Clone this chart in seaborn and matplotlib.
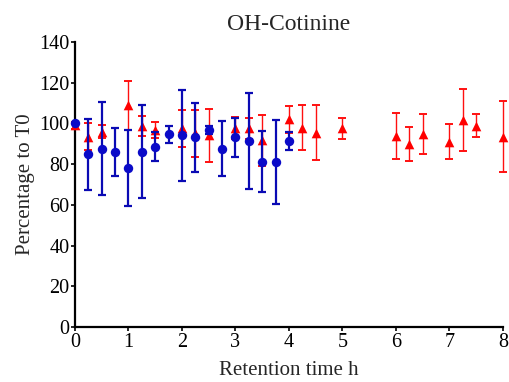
import matplotlib
matplotlib.use("Agg")
import matplotlib.pyplot as plt
import seaborn as sns
import numpy as np

# Red triangles series
red_t = [0, 0.25, 0.5, 1, 1.25, 1.5, 2, 2.25, 2.5, 3, 3.25, 3.5, 4, 4.25, 4.5, 5,
         6, 6.25, 6.5, 7, 7.25, 7.5, 8]
red_v = [99, 93.5, 96, 109, 98.7, 96.8, 97.6, 95.1, 94.3, 97.8, 97.6, 91.8, 102, 98, 95.4, 97.6,
         93.8, 89.9, 94.8, 91, 101.7, 98.9, 93.5]
red_e = [1.5, 6.5, 3, 12, 5, 4, 9, 11.5, 13, 5.5, 5, 12.5, 6.5, 11, 13.6, 5,
         11.3, 8.5, 10, 8.5, 15, 5.7, 17.6]

# Blue circles series
blue_t = [0, 0.25, 0.5, 0.75, 1, 1.25, 1.5, 1.75, 2, 2.25, 2.5, 2.75, 3, 3.25, 3.5, 3.75, 4]
blue_v = [100, 84.8, 87.6, 86, 78.3, 86.1, 88.6, 94.6, 94.1, 93.2, 96.9, 87.6, 93.2, 91.4, 81.2, 81.2, 91.4]
blue_e = [0, 17.3, 23, 12, 18.7, 22.8, 7.2, 4, 22.5, 17, 2, 13.6, 9.6, 23.4, 15, 20.7, 4.3]

x_ticks = [0, 1, 2, 3, 4, 5, 6, 7, 8]
y_ticks = [0, 20, 40, 60, 80, 100, 120, 140]

sns.set_style("ticks")
plt.rcParams['font.family'] = ['Liberation Serif', 'DejaVu Serif']

fig = plt.figure(figsize=(5.10, 3.82), dpi=100)
ax = fig.add_axes([0.147, 0.144, 0.839, 0.746])

# red
_, caps_r, bars_r = ax.errorbar(red_t, red_v, yerr=red_e, fmt='none', ecolor='#ff1010',
                                elinewidth=1.0, capsize=2.7, capthick=1.4, zorder=2, clip_on=False)
for c in caps_r:
    c.set_color('#ff7070')
sns.scatterplot(x=red_t, y=red_v, ax=ax, marker='^', s=48, color='#ff0000',
                edgecolor='#ff0000', linewidth=0, zorder=3, clip_on=False)

# blue
ax.errorbar(blue_t, blue_v, yerr=blue_e, fmt='none', ecolor='#0a0ab4',
            elinewidth=1.6, capsize=3.0, capthick=1.6, zorder=4, clip_on=False)
sns.scatterplot(x=blue_t, y=blue_v, ax=ax, marker='o', s=46, color='#0a0ac8',
                edgecolor='#0a0ac8', linewidth=0, zorder=5, clip_on=False)

ax.set_xlim(0, 8)
ax.set_ylim(0, 140)
ax.set_xticks(x_ticks)
ax.set_yticks(y_ticks)
ax.set_xticklabels([str(v) for v in x_ticks])
ax.set_yticklabels([str(v) for v in y_ticks])
sns.despine(ax=ax)
for s in ['left', 'bottom']:
    ax.spines[s].set_linewidth(1.6)
    ax.spines[s].set_color('black')
ax.tick_params(axis='both', length=3, width=1.2, colors='black', labelsize=14.5, pad=1)
ax.set_xlabel('Retention time h', fontsize=15, labelpad=7)
ax.set_ylabel('Percentage to T0', fontsize=15, labelpad=3)
ax.set_title('OH-Cotinine', fontsize=17, pad=9)

fig.savefig('out.png', dpi=100)
